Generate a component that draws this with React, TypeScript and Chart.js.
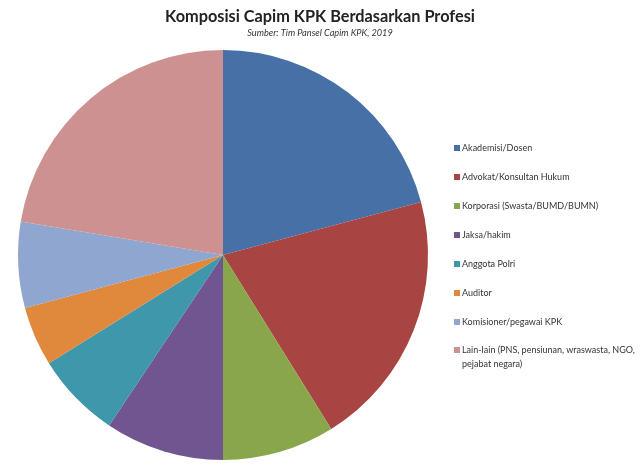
import React, { useEffect, useRef } from "react";
import { Chart, registerables } from "chart.js";

Chart.register(...registerables);

const titleText = "Komposisi Capim KPK Berdasarkan Profesi";
const subtitleText = "Sumber: Tim Pansel Capim KPK, 2019";

const categories: string[][] = [
  ["Akademisi/Dosen"],
  ["Advokat/Konsultan Hukum"],
  ["Korporasi (Swasta/BUMD/BUMN)"],
  ["Jaksa/hakim"],
  ["Anggota Polri"],
  ["Auditor"],
  ["Komisioner/pegawai KPK"],
  ["Lain-lain (PNS, pensiunan, wraswasta, NGO,", "pejabat negara)"],
];

const values = [40, 39, 17, 18, 13, 9, 13, 43];

const colors = [
  "#4670A6",
  "#A84442",
  "#8AA64B",
  "#705591",
  "#3F97AC",
  "#E0893C",
  "#8EA6D0",
  "#CE9191",
];

const FONT = "Lato, 'Open Sans', 'DejaVu Sans', sans-serif";

const titlePlugin = {
  id: "centerTitles",
  afterDraw(chart: any) {
    const ctx = chart.ctx as CanvasRenderingContext2D;
    ctx.save();
    ctx.textAlign = "center";
    ctx.textBaseline = "middle";
    ctx.fillStyle = "#222222";
    ctx.font = `bold 16.3px ${FONT}`;
    ctx.fillText(titleText, 320, 17);
    ctx.fillStyle = "#333333";
    ctx.font = `italic 9.2px ${FONT}`;
    ctx.fillText(subtitleText, 320, 33);
    ctx.restore();
  },
};

export default function App() {
  const ref = useRef<HTMLCanvasElement | null>(null);

  useEffect(() => {
    if (!ref.current) return;
    const chart = new Chart(ref.current, {
      type: "pie",
      data: {
        labels: categories.map((c) => c.join(" ")),
        datasets: [
          {
            data: values,
            backgroundColor: colors,
            borderColor: colors,
            borderWidth: 0,
          },
        ],
      },
      options: {
        responsive: false,
        animation: false,
        devicePixelRatio: 1,
        layout: { padding: { left: 18, right: 212, top: 50, bottom: 10 } },
        plugins: {
          legend: { display: false },
          title: { display: false },
          tooltip: { enabled: false },
        },
      },
      plugins: [titlePlugin],
    });
    return () => chart.destroy();
  }, []);

  const itemY = [148, 177, 206, 235, 264, 293, 322, 350];

  return (
    <div
      style={{
        position: "fixed",
        left: 0,
        top: 0,
        width: 640,
        height: 470,
        background: "#ffffff",
        fontFamily: FONT,
      }}
    >
      <canvas ref={ref} width={640} height={470} style={{ width: 640, height: 470, display: "block" }} />
      {categories.map((lines, i) => (
        <div
          key={i}
          style={{
            position: "absolute",
            left: 454,
            top: itemY[i] - 7,
            fontSize: 9,
            lineHeight: "14px",
            color: "#333333",
            whiteSpace: "nowrap",
          }}
        >
          <span
            style={{
              position: "absolute",
              left: 0,
              top: 4,
              width: 6,
              height: 6,
              background: colors[i],
            }}
          />
          <div style={{ marginLeft: 8 }}>
            {lines.map((l, j) => (
              <div key={j}>{l}</div>
            ))}
          </div>
        </div>
      ))}
    </div>
  );
}
